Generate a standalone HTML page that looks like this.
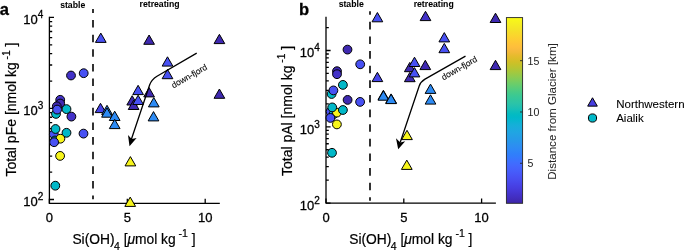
<!DOCTYPE html>
<html><head><meta charset="utf-8"><style>
html,body{margin:0;padding:0;background:#fff;}
.wrap{will-change:transform;}
svg{display:block;}
text{-webkit-font-smoothing:antialiased;}
text{font-family:"Liberation Sans", sans-serif;}
text{stroke:currentColor;stroke-width:0.28px;}
text[font-weight=bold]{stroke-width:0.05px;}
.nf{stroke-width:0.1px;}
.pl{stroke-width:0.3px !important;}
.lab{stroke-width:0.2px;}
.cb{stroke-width:0.03px;}
.lg{stroke-width:0.08px;}
</style></head><body><div class="wrap">
<svg xmlns="http://www.w3.org/2000/svg" width="685" height="251" viewBox="0 0 685 251" font-family='"Liberation Sans", sans-serif'><rect width="685" height="251" fill="#fff"/><path d="M49.4,16.8 V203.3 H219.8" fill="none" stroke="#000" stroke-width="1.3" stroke-linecap="butt"/><path d="M49.4,199.50h4.6 M49.4,172.09h2.8 M49.4,156.06h2.8 M49.4,144.68h2.8 M49.4,135.86h2.8 M49.4,128.65h2.8 M49.4,122.55h2.8 M49.4,117.27h2.8 M49.4,112.62h2.8 M49.4,108.45h4.6 M49.4,81.04h2.8 M49.4,65.01h2.8 M49.4,53.63h2.8 M49.4,44.81h2.8 M49.4,37.60h2.8 M49.4,31.50h2.8 M49.4,26.22h2.8 M49.4,21.57h2.8 M49.4,17.40h4.6 M49.40,203.3v-4.6 M127.30,203.3v-4.6 M205.20,203.3v-4.6" stroke="#000" stroke-width="1.3" fill="none"/><text x="43.30" y="206.45" font-size="13" text-anchor="end">10<tspan font-size="10" dy="-6.0">2</tspan></text><text x="43.30" y="115.40" font-size="13" text-anchor="end">10<tspan font-size="10" dy="-6.0">3</tspan></text><text x="43.30" y="24.35" font-size="13" text-anchor="end">10<tspan font-size="10" dy="-6.0">4</tspan></text><text x="49.40" y="222" font-size="13" text-anchor="middle">0</text><text x="127.30" y="222" font-size="13" text-anchor="middle">5</text><text x="205.20" y="222" font-size="13" text-anchor="middle">10</text><path d="M93.0,9.00V12.97M93.0,20.00V27.60M93.0,34.63V42.23M93.0,49.26V56.86M93.0,63.89V71.49M93.0,78.52V86.12M93.0,93.15V100.75M93.0,107.78V115.38M93.0,122.41V130.01M93.0,137.04V144.64M93.0,151.67V159.27M93.0,166.30V173.90M93.0,180.93V188.53M93.0,195.56V199.30" stroke="#000" stroke-width="1.6" fill="none"/><circle cx="71.00" cy="75.50" r="4.4" fill="#4332c8" stroke="#000" stroke-width="1.0"/><circle cx="83.70" cy="73.20" r="4.4" fill="#4851f3" stroke="#000" stroke-width="1.0"/><circle cx="60.20" cy="99.80" r="4.4" fill="#4332c8" stroke="#000" stroke-width="1.0"/><circle cx="60.20" cy="103.50" r="4.4" fill="#3f29b1" stroke="#000" stroke-width="1.0"/><circle cx="56.80" cy="106.30" r="4.4" fill="#3f29b1" stroke="#000" stroke-width="1.0"/><circle cx="66.50" cy="109.10" r="4.4" fill="#01b8c8" stroke="#000" stroke-width="1.0"/><circle cx="56.00" cy="113.90" r="4.4" fill="#01b8c8" stroke="#000" stroke-width="1.0"/><circle cx="57.10" cy="109.60" r="4.4" fill="#4851f3" stroke="#000" stroke-width="1.0"/><circle cx="71.40" cy="116.60" r="4.4" fill="#4332c8" stroke="#000" stroke-width="1.0"/><circle cx="53.80" cy="134.20" r="4.4" fill="#4851f3" stroke="#000" stroke-width="1.0"/><circle cx="55.00" cy="140.50" r="4.4" fill="#01b8c8" stroke="#000" stroke-width="1.0"/><circle cx="55.50" cy="129.00" r="4.4" fill="#01b8c8" stroke="#000" stroke-width="1.0"/><circle cx="66.50" cy="132.80" r="4.4" fill="#01b8c8" stroke="#000" stroke-width="1.0"/><circle cx="83.50" cy="133.60" r="4.4" fill="#4851f3" stroke="#000" stroke-width="1.0"/><circle cx="60.40" cy="138.70" r="4.4" fill="#f7f51b" stroke="#000" stroke-width="1.0"/><circle cx="54.10" cy="142.20" r="4.4" fill="#4851f3" stroke="#000" stroke-width="1.0"/><circle cx="60.10" cy="155.90" r="4.4" fill="#f7f51b" stroke="#000" stroke-width="1.0"/><circle cx="55.30" cy="185.70" r="4.4" fill="#01b8c8" stroke="#000" stroke-width="1.0"/><path d="M100.80,33.10L106.15,42.40H95.45Z" fill="#4851f3" stroke="#000" stroke-width="1.0" stroke-linejoin="miter"/><path d="M100.50,103.30L105.85,112.60H95.15Z" fill="#4745e9" stroke="#000" stroke-width="1.0" stroke-linejoin="miter"/><path d="M107.00,105.30L112.35,114.60H101.65Z" fill="#2d8bf4" stroke="#000" stroke-width="1.0" stroke-linejoin="miter"/><path d="M107.00,107.90L112.35,117.20H101.65Z" fill="#2d8bf4" stroke="#000" stroke-width="1.0" stroke-linejoin="miter"/><path d="M114.70,111.20L120.05,120.50H109.35Z" fill="#2d8bf4" stroke="#000" stroke-width="1.0" stroke-linejoin="miter"/><path d="M114.70,119.30L120.05,128.60H109.35Z" fill="#2d8bf4" stroke="#000" stroke-width="1.0" stroke-linejoin="miter"/><path d="M138.10,85.30L143.45,94.60H132.75Z" fill="#4851f3" stroke="#000" stroke-width="1.0" stroke-linejoin="miter"/><path d="M149.10,87.60L154.45,96.90H143.75Z" fill="#3f29b1" stroke="#000" stroke-width="1.0" stroke-linejoin="miter"/><path d="M132.20,95.70L137.55,105.00H126.85Z" fill="#3f29b1" stroke="#000" stroke-width="1.0" stroke-linejoin="miter"/><path d="M133.60,100.20L138.95,109.50H128.25Z" fill="#3f29b1" stroke="#000" stroke-width="1.0" stroke-linejoin="miter"/><path d="M138.10,95.20L143.45,104.50H132.75Z" fill="#4851f3" stroke="#000" stroke-width="1.0" stroke-linejoin="miter"/><path d="M153.80,97.60L159.15,106.90H148.45Z" fill="#2d8bf4" stroke="#000" stroke-width="1.0" stroke-linejoin="miter"/><path d="M153.50,111.60L158.85,120.90H148.15Z" fill="#2d8bf4" stroke="#000" stroke-width="1.0" stroke-linejoin="miter"/><path d="M149.10,35.00L154.45,44.30H143.75Z" fill="#3f29b1" stroke="#000" stroke-width="1.0" stroke-linejoin="miter"/><path d="M167.50,56.80L172.85,66.10H162.15Z" fill="#4851f3" stroke="#000" stroke-width="1.0" stroke-linejoin="miter"/><path d="M167.50,69.40L172.85,78.70H162.15Z" fill="#4851f3" stroke="#000" stroke-width="1.0" stroke-linejoin="miter"/><path d="M219.40,34.30L224.75,43.60H214.05Z" fill="#3f29b1" stroke="#000" stroke-width="1.0" stroke-linejoin="miter"/><path d="M219.40,89.00L224.75,98.30H214.05Z" fill="#3f29b1" stroke="#000" stroke-width="1.0" stroke-linejoin="miter"/><path d="M130.40,156.60L135.75,165.90H125.05Z" fill="#f7f51b" stroke="#000" stroke-width="1.0" stroke-linejoin="miter"/><path d="M130.20,197.10L135.55,206.40H124.85Z" fill="#f7f51b" stroke="#000" stroke-width="1.0" stroke-linejoin="miter"/><path d="M196.7,53.1 L157,76.2 Q151.5,79.5 149.6,85 L131.3,139.5" fill="none" stroke="#000" stroke-width="1.3"/><path d="M129.5,146.3 L128.0,135.0 L131.7,138.9 L136.6,137.9 Z" fill="#000"/><path d="M326.0,16.8 V203.1 H495.9" fill="none" stroke="#000" stroke-width="1.3" stroke-linecap="butt"/><path d="M326.0,203.10h4.6 M326.0,180.13h2.8 M326.0,166.70h2.8 M326.0,157.16h2.8 M326.0,149.77h2.8 M326.0,143.73h2.8 M326.0,138.62h2.8 M326.0,134.19h2.8 M326.0,130.29h2.8 M326.0,126.80h4.6 M326.0,103.83h2.8 M326.0,90.40h2.8 M326.0,80.86h2.8 M326.0,73.47h2.8 M326.0,67.43h2.8 M326.0,62.32h2.8 M326.0,57.89h2.8 M326.0,53.99h2.8 M326.0,50.50h4.6 M326.0,27.53h2.8 M326.00,203.1v-4.6 M403.80,203.1v-4.6 M481.60,203.1v-4.6" stroke="#000" stroke-width="1.3" fill="none"/><text x="319.90" y="210.05" font-size="13" text-anchor="end">10<tspan font-size="10" dy="-6.0">2</tspan></text><text x="319.90" y="133.75" font-size="13" text-anchor="end">10<tspan font-size="10" dy="-6.0">3</tspan></text><text x="319.90" y="57.45" font-size="13" text-anchor="end">10<tspan font-size="10" dy="-6.0">4</tspan></text><text x="326.00" y="222" font-size="13" text-anchor="middle">0</text><text x="403.80" y="222" font-size="13" text-anchor="middle">5</text><text x="481.60" y="222" font-size="13" text-anchor="middle">10</text><path d="M370.0,11.30V14.77M370.0,21.80V29.40M370.0,36.43V44.03M370.0,51.06V58.66M370.0,65.69V73.29M370.0,80.32V87.92M370.0,94.95V102.55M370.0,109.58V117.18M370.0,124.21V131.81M370.0,138.84V146.44M370.0,153.47V161.07M370.0,168.10V175.70M370.0,182.73V190.33M370.0,197.36V200.70" stroke="#000" stroke-width="1.6" fill="none"/><circle cx="347.50" cy="49.60" r="4.4" fill="#3f29b1" stroke="#000" stroke-width="1.0"/><circle cx="360.20" cy="64.30" r="4.4" fill="#4851f3" stroke="#000" stroke-width="1.0"/><circle cx="337.00" cy="71.20" r="4.4" fill="#3f29b1" stroke="#000" stroke-width="1.0"/><circle cx="337.00" cy="74.20" r="4.4" fill="#4332c8" stroke="#000" stroke-width="1.0"/><circle cx="342.90" cy="84.90" r="4.4" fill="#01b8c8" stroke="#000" stroke-width="1.0"/><circle cx="331.60" cy="94.00" r="4.4" fill="#01b8c8" stroke="#000" stroke-width="1.0"/><circle cx="333.40" cy="90.40" r="4.4" fill="#4851f3" stroke="#000" stroke-width="1.0"/><circle cx="347.60" cy="99.90" r="4.4" fill="#3f29b1" stroke="#000" stroke-width="1.0"/><circle cx="360.10" cy="101.90" r="4.4" fill="#4851f3" stroke="#000" stroke-width="1.0"/><circle cx="330.60" cy="111.60" r="4.4" fill="#4851f3" stroke="#000" stroke-width="1.0"/><circle cx="333.60" cy="114.20" r="4.4" fill="#01b8c8" stroke="#000" stroke-width="1.0"/><circle cx="336.90" cy="112.60" r="4.4" fill="#f7f51b" stroke="#000" stroke-width="1.0"/><circle cx="332.20" cy="107.40" r="4.4" fill="#01b8c8" stroke="#000" stroke-width="1.0"/><circle cx="342.90" cy="110.00" r="4.4" fill="#01b8c8" stroke="#000" stroke-width="1.0"/><circle cx="330.40" cy="117.90" r="4.4" fill="#4851f3" stroke="#000" stroke-width="1.0"/><circle cx="336.90" cy="124.40" r="4.4" fill="#f7f51b" stroke="#000" stroke-width="1.0"/><circle cx="332.00" cy="152.80" r="4.4" fill="#01b8c8" stroke="#000" stroke-width="1.0"/><path d="M377.40,12.50L382.75,21.80H372.05Z" fill="#4851f3" stroke="#000" stroke-width="1.0" stroke-linejoin="miter"/><path d="M377.40,72.30L382.75,81.60H372.05Z" fill="#4745e9" stroke="#000" stroke-width="1.0" stroke-linejoin="miter"/><path d="M383.40,90.30L388.75,99.60H378.05Z" fill="#2d8bf4" stroke="#000" stroke-width="1.0" stroke-linejoin="miter"/><path d="M383.40,90.90L388.75,100.20H378.05Z" fill="#2d8bf4" stroke="#000" stroke-width="1.0" stroke-linejoin="miter"/><path d="M391.10,93.90L396.45,103.20H385.75Z" fill="#2d8bf4" stroke="#000" stroke-width="1.0" stroke-linejoin="miter"/><path d="M391.10,94.30L396.45,103.60H385.75Z" fill="#2d8bf4" stroke="#000" stroke-width="1.0" stroke-linejoin="miter"/><path d="M409.80,62.40L415.15,71.70H404.45Z" fill="#3f29b1" stroke="#000" stroke-width="1.0" stroke-linejoin="miter"/><path d="M414.50,57.20L419.85,66.50H409.15Z" fill="#4851f3" stroke="#000" stroke-width="1.0" stroke-linejoin="miter"/><path d="M425.30,60.30L430.65,69.60H419.95Z" fill="#3f29b1" stroke="#000" stroke-width="1.0" stroke-linejoin="miter"/><path d="M409.80,72.40L415.15,81.70H404.45Z" fill="#3f29b1" stroke="#000" stroke-width="1.0" stroke-linejoin="miter"/><path d="M414.50,67.60L419.85,76.90H409.15Z" fill="#4851f3" stroke="#000" stroke-width="1.0" stroke-linejoin="miter"/><path d="M425.50,11.30L430.85,20.60H420.15Z" fill="#4332c8" stroke="#000" stroke-width="1.0" stroke-linejoin="miter"/><path d="M444.30,32.60L449.65,41.90H438.95Z" fill="#4851f3" stroke="#000" stroke-width="1.0" stroke-linejoin="miter"/><path d="M444.30,43.40L449.65,52.70H438.95Z" fill="#4851f3" stroke="#000" stroke-width="1.0" stroke-linejoin="miter"/><path d="M495.50,13.20L500.85,22.50H490.15Z" fill="#3f29b1" stroke="#000" stroke-width="1.0" stroke-linejoin="miter"/><path d="M495.50,60.30L500.85,69.60H490.15Z" fill="#3f29b1" stroke="#000" stroke-width="1.0" stroke-linejoin="miter"/><path d="M430.50,84.10L435.85,93.40H425.15Z" fill="#2d8bf4" stroke="#000" stroke-width="1.0" stroke-linejoin="miter"/><path d="M430.50,94.80L435.85,104.10H425.15Z" fill="#2d8bf4" stroke="#000" stroke-width="1.0" stroke-linejoin="miter"/><path d="M407.00,130.30L412.35,139.60H401.65Z" fill="#f7f51b" stroke="#000" stroke-width="1.0" stroke-linejoin="miter"/><path d="M406.80,160.10L412.15,169.40H401.45Z" fill="#f7f51b" stroke="#000" stroke-width="1.0" stroke-linejoin="miter"/><path d="M465.5,56.1 L425,79.1 Q420.6,81.7 419.2,86 L400.2,142.5" fill="none" stroke="#000" stroke-width="1.3"/><path d="M398.2,149.3 L396.0,138.2 L400.3,142.4 L405.2,141.3 Z" fill="#000"/><text x="72.7" y="8.1" font-size="8.7" font-weight="bold" text-anchor="middle">stable</text><text x="159.6" y="7.3" font-size="8.7" font-weight="bold" text-anchor="middle">retreating</text><text x="351.2" y="7.3" font-size="8.7" font-weight="bold" text-anchor="middle">stable</text><text x="433.7" y="6.5" font-size="8.7" font-weight="bold" text-anchor="middle">retreating</text><text transform="translate(173.4,88.4) rotate(-29.5)" font-size="8.5" class="nf">down-fjord</text><text transform="translate(443.4,80.4) rotate(-29.5)" font-size="8.5" class="nf">down-fjord</text><text x="-0.3" y="14.8" font-size="16.5" font-weight="bold" class="pl">a</text><text x="299" y="15.1" font-size="16.5" font-weight="bold" class="pl">b</text><text transform="translate(16.4,176.6) rotate(-90)" font-size="14" class="lab">Total pFe [nmol kg<tspan font-size="10.2" dy="-6.8"> -1</tspan><tspan dy="6.8"> ]</tspan></text><text transform="translate(291.9,176.0) rotate(-90)" font-size="14" class="lab">Total pAl [nmol kg<tspan font-size="10.2" dy="-6.8"> -1</tspan><tspan dy="6.8"> ]</tspan></text><text x="72.4" y="243.8" font-size="13.8" class="lab">Si(OH)<tspan font-size="10.5" dx="-0.6" dy="6.3">4</tspan><tspan dy="-6.3"> [</tspan><tspan font-style="italic">μ</tspan>mol kg<tspan font-size="10.5" dy="-6.6"> -1</tspan><tspan dy="6.6"> ]</tspan></text><text x="349.2" y="243.8" font-size="13.8" class="lab">Si(OH)<tspan font-size="10.5" dx="-0.6" dy="6.3">4</tspan><tspan dy="-6.3"> [</tspan><tspan font-style="italic">μ</tspan>mol kg<tspan font-size="10.5" dy="-6.6"> -1</tspan><tspan dy="6.6"> ]</tspan></text><defs><linearGradient id="par" x1="0" y1="0" x2="0" y2="1"><stop offset="0.0000" stop-color="#f9fb15"/><stop offset="0.0159" stop-color="#f7f51b"/><stop offset="0.0317" stop-color="#f6ef20"/><stop offset="0.0476" stop-color="#f5e924"/><stop offset="0.0635" stop-color="#f5e327"/><stop offset="0.0794" stop-color="#f7dc2a"/><stop offset="0.0952" stop-color="#fad62d"/><stop offset="0.1111" stop-color="#fccf30"/><stop offset="0.1270" stop-color="#fec934"/><stop offset="0.1429" stop-color="#fec338"/><stop offset="0.1587" stop-color="#febe3c"/><stop offset="0.1746" stop-color="#f8ba3d"/><stop offset="0.1905" stop-color="#f0ba36"/><stop offset="0.2063" stop-color="#e6bb2d"/><stop offset="0.2222" stop-color="#dcbd29"/><stop offset="0.2381" stop-color="#d1bf27"/><stop offset="0.2540" stop-color="#c5c22a"/><stop offset="0.2698" stop-color="#b9c431"/><stop offset="0.2857" stop-color="#abc739"/><stop offset="0.3016" stop-color="#9dc943"/><stop offset="0.3175" stop-color="#8fcb4e"/><stop offset="0.3333" stop-color="#81cc59"/><stop offset="0.3492" stop-color="#72cd64"/><stop offset="0.3651" stop-color="#64cd6f"/><stop offset="0.3810" stop-color="#57cc7a"/><stop offset="0.3968" stop-color="#4acb84"/><stop offset="0.4127" stop-color="#3fca8e"/><stop offset="0.4286" stop-color="#37c897"/><stop offset="0.4444" stop-color="#31c69f"/><stop offset="0.4603" stop-color="#2cc4a7"/><stop offset="0.4762" stop-color="#24c1ae"/><stop offset="0.4921" stop-color="#19bfb6"/><stop offset="0.5079" stop-color="#0bbdbd"/><stop offset="0.5238" stop-color="#02bac3"/><stop offset="0.5397" stop-color="#01b8ca"/><stop offset="0.5556" stop-color="#08b5d0"/><stop offset="0.5714" stop-color="#12b1d6"/><stop offset="0.5873" stop-color="#18addb"/><stop offset="0.6032" stop-color="#1ca9df"/><stop offset="0.6190" stop-color="#20a5e3"/><stop offset="0.6349" stop-color="#23a0e5"/><stop offset="0.6508" stop-color="#259be8"/><stop offset="0.6667" stop-color="#2797eb"/><stop offset="0.6825" stop-color="#2b91ef"/><stop offset="0.6984" stop-color="#2d8cf3"/><stop offset="0.7143" stop-color="#2e87f7"/><stop offset="0.7302" stop-color="#2f81fa"/><stop offset="0.7460" stop-color="#327cfc"/><stop offset="0.7619" stop-color="#3875fe"/><stop offset="0.7778" stop-color="#3e6fff"/><stop offset="0.7937" stop-color="#4269fe"/><stop offset="0.8095" stop-color="#4563fd"/><stop offset="0.8254" stop-color="#465efb"/><stop offset="0.8413" stop-color="#4758f8"/><stop offset="0.8571" stop-color="#4852f4"/><stop offset="0.8730" stop-color="#484df0"/><stop offset="0.8889" stop-color="#4747eb"/><stop offset="0.9048" stop-color="#4741e5"/><stop offset="0.9206" stop-color="#463cde"/><stop offset="0.9365" stop-color="#4537d5"/><stop offset="0.9524" stop-color="#4332cb"/><stop offset="0.9683" stop-color="#422ec0"/><stop offset="0.9841" stop-color="#402ab4"/><stop offset="1.0000" stop-color="#3e26a8"/></linearGradient></defs><rect x="506.4" y="17.6" width="16.20" height="185.70" fill="url(#par)" stroke="#262626" stroke-width="0.9"/><path d="M522.6,163.29h-2.6" stroke="#262626" stroke-width="0.9"/><text x="527.6" y="167.19" font-size="10.6" fill="#262626" class="cb">5</text><path d="M522.6,111.99h-2.6" stroke="#262626" stroke-width="0.9"/><text x="527.6" y="115.89" font-size="10.6" fill="#262626" class="cb">10</text><path d="M522.6,60.69h-2.6" stroke="#262626" stroke-width="0.9"/><text x="527.6" y="64.59" font-size="10.6" fill="#262626" class="cb">15</text><text transform="translate(556.4,111.5) rotate(-90)" font-size="11.6" text-anchor="middle" fill="#262626" class="cb">Distance from Glacier [km]</text><path d="M592.50,97.77L597.32,106.14H587.68Z" fill="#463de0" stroke="#000" stroke-width="1.0" stroke-linejoin="miter"/><circle cx="592.50" cy="118.00" r="4.1" fill="#01b8c8" stroke="#000" stroke-width="1.0"/><text x="616.2" y="107.6" font-size="11.5" class="lg">Northwestern</text><text x="616.2" y="122.3" font-size="11.5" class="lg">Aialik</text></svg>
</div></body></html>
